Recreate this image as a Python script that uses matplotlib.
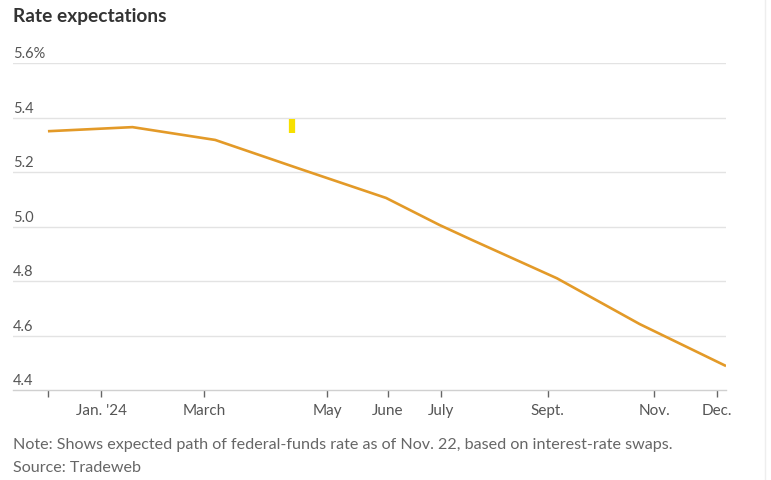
import matplotlib
matplotlib.use("Agg")
import matplotlib.pyplot as plt

plt.rcParams['font.family'] = ['Lato', 'DejaVu Sans']

# x = days since Dec. 1, 2023
days = [0, 46, 91, 137, 184, 213, 231, 277, 322, 369]
rate = [5.35, 5.365, 5.318, 5.212, 5.105, 5.006, 4.95, 4.81, 4.642, 4.488]

tick_days = [0, 29, 85, 152, 185, 214, 272, 330, 364]
tick_labels = ['', "Jan. '24", 'March', 'May', 'June', 'July', 'Sept.', 'Nov.', 'Dec.']

y_ticks = [4.4, 4.6, 4.8, 5.0, 5.2, 5.4, 5.6]
y_labels = ['4.4', '4.6', '4.8', '5.0', '5.2', '5.4', '5.6%']

# stray yellow mark in the screenshot
mark_day = 133
mark_y = [5.345, 5.395]

line_color = '#e39a28'
grid_color = '#e3e3e3'
text_color = '#555555'

fig = plt.figure(figsize=(7.71, 4.8), dpi=100)
ax = fig.add_axes([0.0169, 0.1875, 0.9248, 0.681])

ax.plot(days, rate, color=line_color, linewidth=1.9, solid_capstyle='butt', zorder=3)
ax.plot([mark_day, mark_day], mark_y, color='#f7e000', linewidth=4.5, solid_capstyle='butt', zorder=4)

ax.set_xlim(-19, 369)
ax.set_ylim(4.4, 5.6)

for y, lab in zip(y_ticks, y_labels):
    if y > 4.4:
        ax.axhline(y, color=grid_color, linewidth=1.0, zorder=1)
    ax.text(0.0, y + 0.006, lab, transform=ax.get_yaxis_transform(), ha='left', va='bottom',
            fontsize=10.5, color=text_color)

ax.set_yticks([])
ax.set_xticks(tick_days)
ax.set_xticklabels(tick_labels, fontsize=11, color=text_color)
ax.tick_params(axis='x', length=5, width=1, color='#666666', pad=5)

for s in ['top', 'right', 'left']:
    ax.spines[s].set_visible(False)
ax.spines['bottom'].set_color('#d0d0d0')
ax.spines['bottom'].set_linewidth(1.0)

fig.text(0.0169, 0.966, 'Rate expectations', fontsize=13.8, fontweight='bold',
         color='#333333', ha='left', va='center')
fig.text(0.0169, 0.073, 'Note: Shows expected path of federal-funds rate as of Nov. 22, based on interest-rate swaps.',
         fontsize=11.6, color='#666666', ha='left', va='center')
fig.text(0.0169, 0.026, 'Source: Tradeweb', fontsize=11.6, color='#666666', ha='left', va='center')

# right border of the screenshot
fig.add_artist(plt.Line2D([0.992, 0.992], [0.0, 1.0], transform=fig.transFigure,
                          color='#eeeeee', linewidth=1.0))

fig.savefig('out.png', dpi=100)
